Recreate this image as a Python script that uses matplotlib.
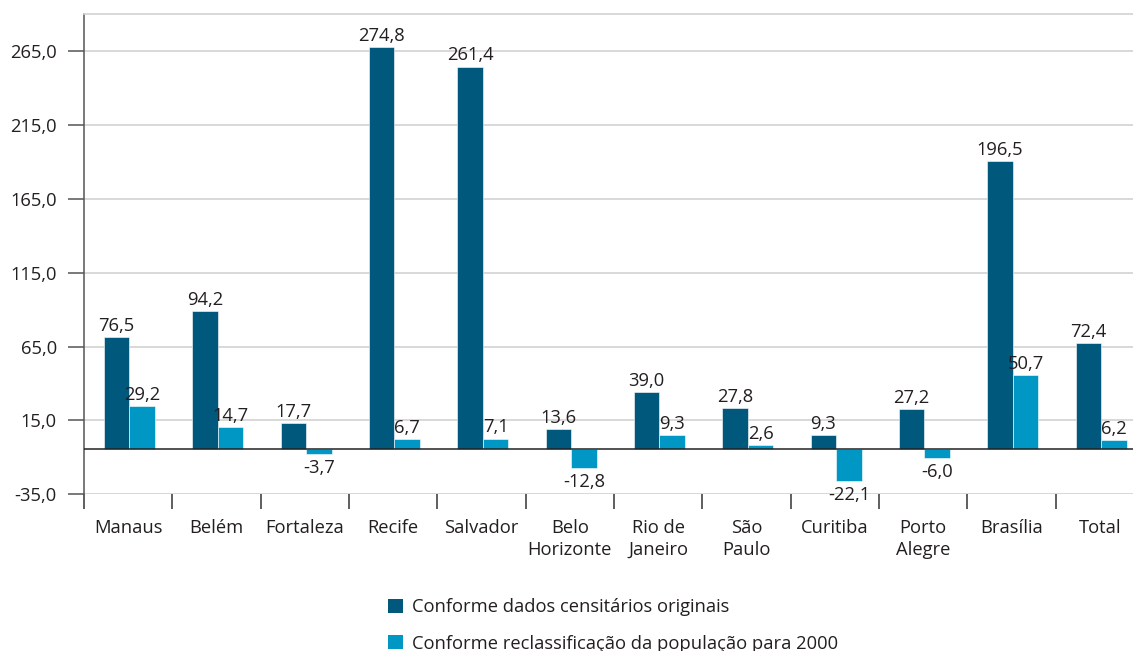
import numpy as np
import matplotlib
matplotlib.use('Agg')
import matplotlib.pyplot as plt
from matplotlib.patches import Patch

# Crescimento por região metropolitana (%)
cidades = ['Manaus', 'Belém', 'Fortaleza', 'Recife', 'Salvador', 'Belo\nHorizonte',
           'Rio de\nJaneiro', 'São\nPaulo', 'Curitiba', 'Porto\nAlegre', 'Brasília', 'Total']
originais = [76.5, 94.2, 17.7, 274.8, 261.4, 13.6, 39.0, 27.8, 9.3, 27.2, 196.5, 72.4]
reclassificados = [29.2, 14.7, -3.7, 6.7, 7.1, -12.8, 9.3, 2.6, -22.1, -6.0, 50.7, 6.2]
escala_ticks = [-35.0, 15.0, 65.0, 115.0, 165.0, 215.0, 265.0]
legendas = ['Conforme dados censitários originais',
            'Conforme reclassificação da população para 2000']

COR_ESCURA = '#00587c'
COR_CLARA = '#0097c4'
COR_TEXTO = '#231f20'
COR_GRADE = '#d2d2d2'
FONTE = 13.2

plt.rcParams['font.family'] = ['Open Sans', 'DejaVu Sans']
plt.rcParams['text.color'] = COR_TEXTO


def fmt(v):
    return f"{v:.1f}".replace('.', ',')


def setup_scale_axis(ax):
    # eixo da escala: grade, ticks da esquerda e separadores das categorias
    ax.set_ylim(-35, 290)
    ax.set_xlim(-0.5, len(cidades) - 0.5)
    ax.set_yticks(escala_ticks)
    ax.set_yticklabels([fmt(v) for v in escala_ticks], fontsize=FONTE, color=COR_TEXTO)
    ax.yaxis.grid(True, color=COR_GRADE, linewidth=1.2)
    ax.set_axisbelow(True)
    ax.tick_params(axis='y', length=11.5, width=1.1, color='#555555', pad=8)

    x = np.arange(len(cidades))
    ax.set_xticks(x)
    ax.set_xticklabels(cidades, fontsize=FONTE, color=COR_TEXTO, linespacing=1.3)
    ax.set_xticks(np.arange(-0.5, len(cidades), 1.0), minor=True)
    ax.tick_params(axis='x', which='major', length=0, pad=17.5)
    ax.tick_params(axis='x', which='minor', length=11, width=1.1, color='#333333')

    ax.spines['left'].set_color('#555555')
    ax.spines['left'].set_linewidth(1.1)
    ax.spines['top'].set_color(COR_GRADE)
    ax.spines['top'].set_linewidth(1.2)
    ax.spines['right'].set_visible(False)
    ax.spines['bottom'].set_visible(False)


def draw_bars(ax):
    x = np.arange(len(cidades))
    w = 0.29
    shift = 0.015
    b1 = ax.bar(x - w / 2 + shift, originais, w, color=COR_ESCURA,
                edgecolor='white', linewidth=0.4, zorder=2)
    b2 = ax.bar(x + w / 2 + shift, reclassificados, w, color=COR_CLARA,
                edgecolor='white', linewidth=0.4, zorder=2)
    ax.axhline(0, color='#222222', linewidth=1.1, zorder=3)

    for bars, vals in ((b1, originais), (b2, reclassificados)):
        for rect, v in zip(bars, vals):
            cx = rect.get_x() + rect.get_width() / 2
            if v >= 0:
                ax.annotate(fmt(v), (cx, v), xytext=(0, 1.5), textcoords='offset points',
                            ha='center', va='bottom', fontsize=FONTE, color=COR_TEXTO)
            else:
                ax.annotate(fmt(v), (cx, v), xytext=(0, -3.5), textcoords='offset points',
                            ha='center', va='top', fontsize=FONTE, color=COR_TEXTO)


fig = plt.figure(figsize=(11.33, 6.51), dpi=100)
ax = fig.add_axes([84 / 1133, 1 - 494.3 / 651, 1060 / 1133, 480.3 / 651])
setup_scale_axis(ax)

# eixo dos valores das barras, sobreposto ao da escala
ax_val = ax.twinx()
ax_val.set_ylim(-31.0, 297.3)
ax_val.set_yticks([])
for s in ax_val.spines.values():
    s.set_visible(False)
draw_bars(ax_val)

handles = [Patch(facecolor=COR_ESCURA), Patch(facecolor=COR_CLARA)]
fig.legend(handles, legendas, loc='upper left', bbox_to_anchor=(388 / 1133, 1 - 598 / 651),
           frameon=False, fontsize=FONTE, handlelength=0.82, handleheight=0.82,
           handletextpad=0.5, labelspacing=1.02, borderpad=0, borderaxespad=0)

fig.savefig('out.png', dpi=100)
